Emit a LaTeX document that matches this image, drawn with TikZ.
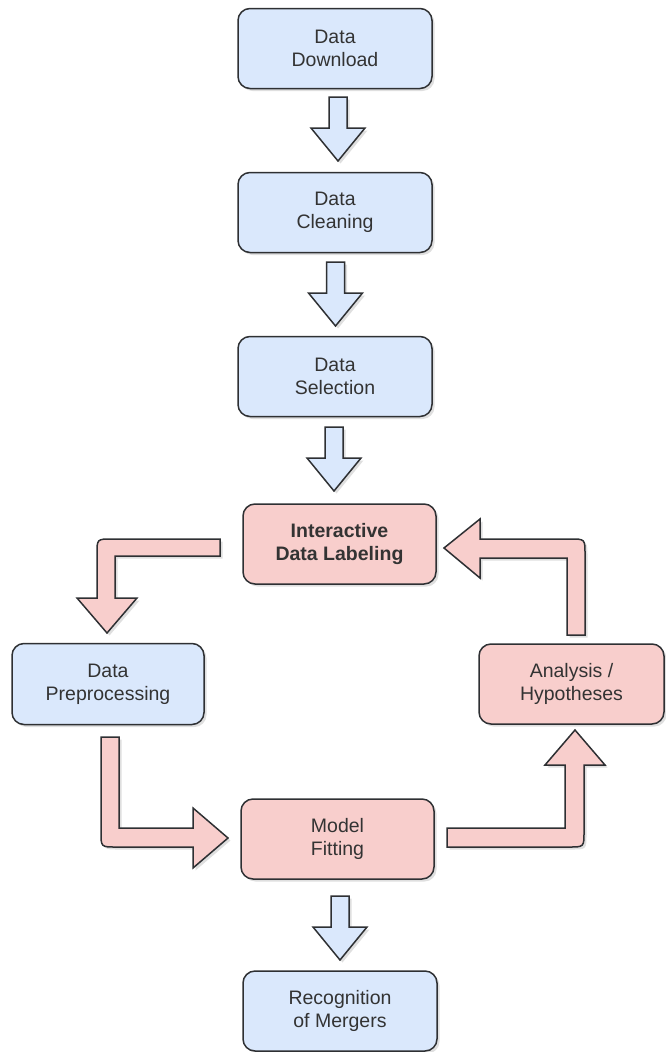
\documentclass[tikz,border=0pt]{standalone}
\usepackage{fontspec}
\setmainfont{Liberation Sans}
\usetikzlibrary{shadows}
\definecolor{bluefill}{HTML}{DAE8FC}
\definecolor{pinkfill}{HTML}{F8CECC}
\definecolor{strokec}{HTML}{2E3033}
\definecolor{textc}{HTML}{333333}
\tikzset{
  shd/.style={drop shadow={opacity=0.25,shadow xshift=2.5pt,shadow yshift=-2.5pt}},
  box/.style={draw=strokec,line width=1.5pt,rounded corners=12pt,shd,
    minimum width=194pt,minimum height=80pt,align=center,text=textc,
    font=\fontsize{19.5}{23}\selectfont},
  bluebox/.style={box,fill=bluefill},
  pinkbox/.style={box,fill=pinkfill},
  barrow/.style={draw=strokec,line width=1.5pt,line join=miter,shd},
  pics/downarrow/.style={code={
    \path[barrow,fill=#1] (-9,0) -- (9,0) -- (9,31) -- (27,31) -- (0,64) -- (-27,31) -- (-9,31) -- cycle;
  }}
}
\begin{document}
\begin{tikzpicture}[x=1pt,y=-1pt]
\useasboundingbox (0,0) rectangle (666,1052);
% nodes
\node[bluebox] (dl) at (335,48.5) {Data\\Download};
\node[bluebox] (cl) at (335,212.5) {Data\\Cleaning};
\node[bluebox] (sel) at (335,376.5) {Data\\Selection};
\node[pinkbox,font=\fontsize{19.5}{23}\selectfont\bfseries,minimum width=193pt] (lab) at (339.5,544) {Interactive\\Data Labeling};
\node[bluebox,minimum width=192pt,minimum height=81pt] (pre) at (108,684) {Data\\Preprocessing};
\node[pinkbox,minimum width=185pt,minimum height=80pt] (ana) at (571.5,684) {Analysis /\\Hypotheses};
\node[pinkbox,minimum width=193pt] (mod) at (337.5,839) {Model\\Fitting};
\node[bluebox] (rec) at (340,1011) {Recognition\\of Mergers};
% straight down arrows
\pic at (338,97) {downarrow=bluefill};
\pic at (335.5,262) {downarrow=bluefill};
\pic at (334,427) {downarrow=bluefill};
\pic at (340,896) {downarrow=bluefill};
% Labeling -> Preprocessing
\path[barrow,fill=pinkfill] (220,539) -- (112,539) .. controls (97,539) .. (97,554)
  -- (97,598) -- (77,598) -- (107,633) -- (137,598) -- (115,598) -- (115,556) -- (220,556) -- cycle;
% Preprocessing -> Model
\path[barrow,fill=pinkfill] (101,737) -- (119,737) -- (119,828) -- (193,828) -- (193,808)
  -- (228,838) -- (193,868) -- (193,847) -- (116,847) .. controls (101,847) .. (101,832) -- cycle;
% Model -> Analysis
\path[barrow,fill=pinkfill] (447,828) -- (565,828) -- (565,765) -- (545,765) -- (575,730)
  -- (605,765) -- (584,765) -- (584,832) .. controls (584,847) .. (569,847) -- (447,847) -- cycle;
% Analysis -> Labeling
\path[barrow,fill=pinkfill] (585,635) -- (567,635) -- (567,558) -- (480,558) -- (480,578)
  -- (444,548) -- (480,519) -- (480,539) -- (570,539) .. controls (585,539) .. (585,554) -- cycle;
\end{tikzpicture}
\end{document}
